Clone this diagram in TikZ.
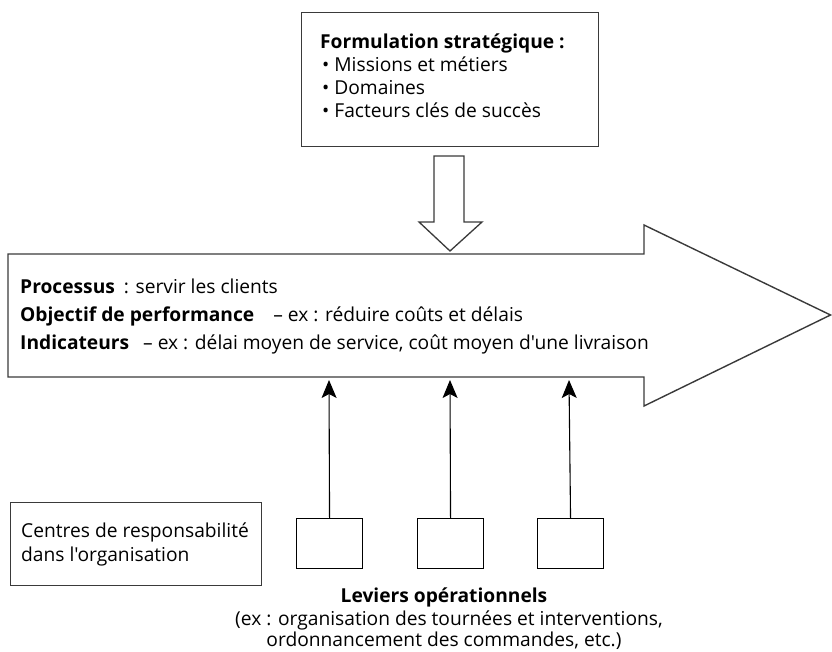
\documentclass[tikz,border=0pt]{standalone}
\usepackage{fontspec}
\setmainfont{Open Sans}[Ligatures=TeXOff]
\usetikzlibrary{arrows.meta}
\definecolor{linegray}{HTML}{3A3A3A}
\begin{document}
\begin{tikzpicture}[x=1pt,y=-1pt,
  boxline/.style={draw=linegray,line width=1.4pt},
  txt/.style={anchor=base west,inner sep=0pt,font=\fontsize{19.2}{22}\selectfont},
  ctxt/.style={anchor=base,inner sep=0pt,font=\fontsize{19.2}{22}\selectfont},
  lever/.style={draw=black,line width=1.1pt,minimum width=66pt,minimum height=50pt,inner sep=0pt},
  uparrow/.style={-{Stealth[length=18pt,width=15pt,inset=4pt]},line width=1.1pt,black}]
\useasboundingbox (0,0) rectangle (832,652);
% top box
\node[boxline,minimum width=297pt,minimum height=134pt,anchor=north west,inner sep=0pt] (strat) at (301,12) {};
\node[txt] (f0) at (320,49) {\textbf{Formulation stratégique :}};
\node[txt] (f1) at (322,72) {\textbullet\ Missions et métiers};
\node[txt] (f2) at (322,95) {\textbullet\ Domaines};
\node[txt] (f3) at (322,118) {\textbullet\ Facteurs clés de succès};
% hollow down arrow
\draw[linegray,line width=1.3pt,fill=white] (434,156) -- (464,156) -- (464,222) -- (482,222) -- (450,251) -- (419,222) -- (434,222) -- cycle;
% big arrow
\draw[linegray,line width=1.4pt,line join=miter] (8,254) -- (644,254) -- (644,225) -- (830.5,315) -- (644,406) -- (644,377) -- (8,377) -- cycle;
\coordinate (b1) at (329,380);
\coordinate (b2) at (450,380);
\coordinate (b3) at (569,380);
\node[txt] (p1) at (20,293) {\textbf{Processus}\hspace{4pt} : servir les clients};
\node[txt] (p2) at (20,321) {\textbf{Objectif de performance}\hspace{14pt} – ex : réduire coûts et délais};
\node[txt] (p3) at (20,349) {\textbf{Indicateurs}\hspace{9pt} – ex : délai moyen de service, coût moyen d'une livraison};
% centres
\node[boxline,minimum width=251pt,minimum height=83pt,anchor=north west,inner sep=0pt] (centres) at (10,502) {};
\node[txt] (c1) at (21,537) {Centres de responsabilité};
\node[txt] (c2) at (21,561) {dans l'organisation};
% levers
\node[lever,anchor=north west] (l1) at (296,518) {};
\node[lever,anchor=north west] (l2) at (417,518) {};
\node[lever,anchor=north west] (l3) at (537,518) {};
\draw[uparrow] (l1.north) -- (b1);
\draw[uparrow] (l2.north) -- (b2);
\draw[uparrow] (l3.north) -- (b3);
\node[ctxt] (lv0) at (444,602) {\textbf{Leviers opérationnels}};
\node[ctxt] (lv1) at (449,625) {(ex : organisation des tournées et interventions,};
\node[ctxt] (lv2) at (444,646) {ordonnancement des commandes, etc.)};
\end{tikzpicture}
\end{document}
